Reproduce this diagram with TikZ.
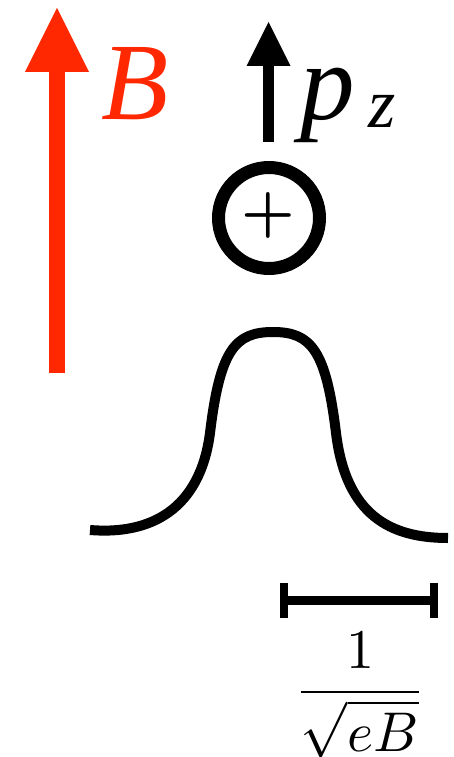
\documentclass[tikz,border=0pt]{standalone}
\usepackage{graphicx}
\usepackage{fontspec}
\newfontfamily\serifit{Liberation Serif Italic}
\definecolor{bred}{RGB}{255,40,0}
\begin{document}
\begin{tikzpicture}[x=1pt,y=-1pt,
  lbl/.style={inner sep=0pt,outer sep=0pt},
  curve/.style={line width=10pt,line cap=butt,line join=round}]
\useasboundingbox (0,0) rectangle (454,757);
% red B arrow
\fill[bred] (49,373) rectangle (65,70);
\fill[bred] (25,72) -- (57,8) -- (89,72) -- cycle;
\node[lbl,anchor=base west,text=bred] (B) at (101,120) {\fontsize{110}{110}\selectfont\serifit B};
% black p_z arrow
\fill[black] (263,142) rectangle (274,64);
\fill[black] (246.5,66) -- (268.5,22) -- (290.5,66) -- cycle;
\node[lbl,anchor=base west] (p) at (300,120) {\fontsize{109}{109}\selectfont\serifit p};
\node[lbl,anchor=base west] (z) at (368,128) {\fontsize{70}{70}\selectfont\serifit z};
% charge
\draw[line width=13pt] (269,218) circle (50.5);
\node[lbl,anchor=base] (plus) at (268.5,230) {\scalebox{6}{\boldmath$+$}};
% wave packet
\draw[curve] (90,530) .. controls (150,535) and (200,510) .. (210,433)
  .. controls (220,350) and (235,332) .. (273,332)
  .. controls (311,332) and (326,350) .. (336,433)
  .. controls (346,515) and (390,538) .. (448,538);
% scale bar
\draw[line width=9pt] (284,600) -- (434,600);
\draw[line width=8pt] (284,583) -- (284,618);
\draw[line width=8pt] (434,583) -- (434,618);
\node[lbl,anchor=base] (frac) at (360,706) {\scalebox{5.6}{$\displaystyle\frac{1}{\sqrt{eB}}$}};
\end{tikzpicture}
\end{document}
